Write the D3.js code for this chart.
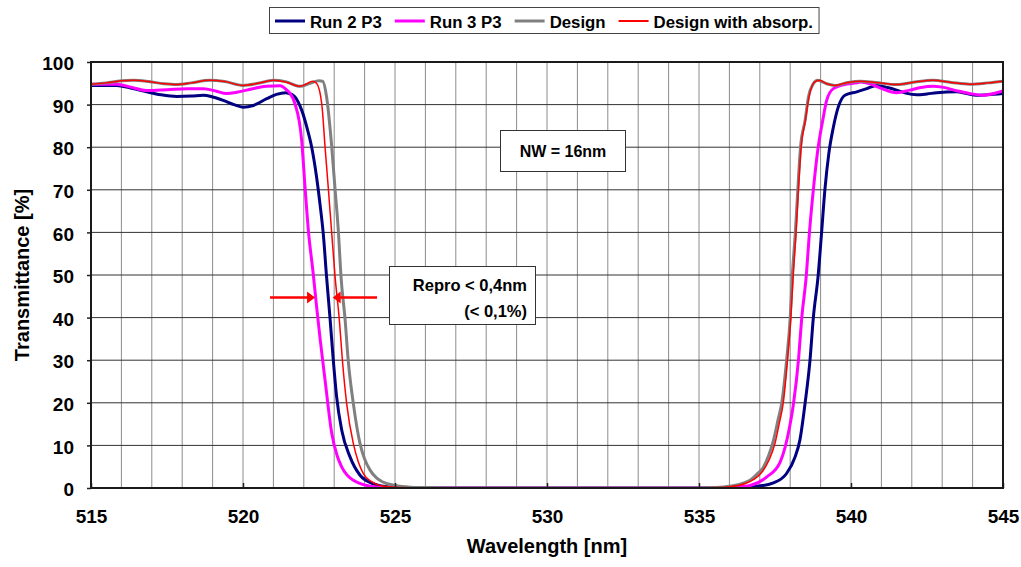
<!doctype html>
<html lang="en">
<head>
<meta charset="utf-8">
<title>Transmittance vs wavelength</title>
<style>
body { margin: 0; background: #fff; font-family: Arial, "Liberation Sans", Helvetica, sans-serif; }
text { font-weight: bold; fill: #000; }
</style>
</head>
<body>
<svg id="chart" width="1021" height="567"></svg>
<script src="https://cdn.jsdelivr.net/npm/d3@7/dist/d3.min.js"></script>
<script>
// values: [wavelength nm, transmittance %]
var run2 = [
  [515.0, 94.5], [515.85, 94.5], [516.3, 93.9], [516.83, 93.0], [517.3, 92.3], [517.82, 91.9],
  [518.3, 92.0], [518.7, 92.2], [519.0, 91.8], [519.35, 91.0], [519.7, 90.0], [520.0, 89.4],
  [520.34, 89.8], [520.78, 91.4], [521.1, 92.4], [521.4, 92.8], [521.6, 92.4], [521.71, 91.8],
  [521.93, 88.7], [522.1, 84.7], [522.26, 80], [522.42, 73], [522.53, 66.8], [522.64, 59.7],
  [522.75, 49.5], [522.86, 40.1], [522.97, 30], [523.08, 21.4], [523.25, 13.5], [523.52, 7.3],
  [523.85, 3.0], [524.29, 1.0], [524.84, 0.2], [525.5, 0.05], [526, 0], [535.5, 0],
  [536.0, 0.1], [536.9, 0.4], [537.45, 1.2], [537.88, 3.4], [538.16, 7.3], [538.32, 11.3],
  [538.49, 19.9], [538.65, 29.9], [538.76, 39.9], [538.92, 49.9], [539.03, 59.7], [539.14, 69.9],
  [539.27, 78.5], [539.42, 84.7], [539.58, 89.4], [539.8, 92.2], [540.19, 93.0], [540.5, 93.7],
  [540.85, 94.5], [541.2, 94.0], [541.5, 93.4], [541.8, 92.7], [542.16, 92.3], [542.5, 92.5],
  [542.82, 92.8], [543.47, 93.0], [543.8, 92.6], [544.13, 92.2], [544.5, 92.3], [545.0, 92.6]
];
var run3 = [
  [515.0, 94.8], [515.85, 94.8], [516.3, 94.1], [516.83, 93.3], [517.5, 93.5], [518.16, 93.75],
  [518.7, 93.75], [519.1, 93.2], [519.46, 92.6], [519.8, 92.9], [520.12, 93.4], [520.5, 94.0],
  [520.78, 94.3], [521.22, 94.4], [521.44, 93.4], [521.55, 92.6], [521.71, 90.2], [521.93, 81.6],
  [522.04, 70.7], [522.15, 60.5], [522.31, 50.3], [522.4, 44], [522.53, 35.4], [522.7, 25.3],
  [522.92, 12.8], [523.1, 7.5], [523.25, 4.9], [523.63, 1.8], [524.29, 0.3], [525, 0.05],
  [526, 0], [535.5, 0], [536.2, 0.2], [536.68, 0.6], [537.23, 2.6], [537.67, 6.1],
  [537.98, 14.3], [538.11, 19.9], [538.27, 29.9], [538.38, 39.9], [538.53, 49.9], [538.63, 59.7],
  [538.76, 69.9], [538.92, 80], [539.07, 86.3], [539.2, 91], [539.42, 93.75], [539.86, 94.8],
  [540.19, 95.1], [540.3, 95.3], [540.63, 94.9], [541.0, 93.8], [541.5, 92.8], [541.94, 93.4],
  [542.3, 94.0], [542.7, 94.3], [543.0, 94.1], [543.5, 93.2], [543.9, 92.6], [544.35, 92.2],
  [544.7, 92.6], [545.0, 93.2]
];
var design = [
  [515.0, 94.8], [515.5, 95.1], [516.0, 95.6], [516.4, 95.7], [516.9, 95.4], [517.4, 94.9],
  [517.8, 94.7], [518.3, 95.1], [518.9, 95.7], [519.4, 95.4], [520.0, 94.5], [520.5, 95.0],
  [521.0, 95.7], [521.4, 95.4], [521.875, 94.3], [522.2, 95.0], [522.5, 95.6], [522.62, 95.5],
  [522.75, 91.8], [522.92, 80], [523.03, 70], [523.14, 60], [523.22, 50], [523.36, 39.4],
  [523.46, 30], [523.63, 19.8], [523.85, 10.4], [524.0, 6.8], [524.18, 4.2], [524.4, 2.3],
  [524.6, 1.4], [525.0, 0.6], [525.5, 0.2], [526, 0.1], [527, 0], [535, 0],
  [535.5, 0.1], [536.0, 0.4], [536.4, 1.0], [536.68, 1.8], [536.9, 3.2], [537.12, 4.9],
  [537.3, 7.8], [537.45, 11.2], [537.6, 16], [537.72, 19.9], [537.88, 29.9], [538.0, 39.9],
  [538.07, 49.9], [538.17, 60], [538.25, 70], [538.34, 80], [538.49, 86.3], [538.6, 91.8],
  [538.75, 94.8], [538.9, 95.7], [539.2, 94.9], [539.47, 94.5], [539.9, 95.2], [540.3, 95.5],
  [540.8, 95.2], [541.5, 94.7], [542.1, 95.3], [542.7, 95.7], [543.3, 95.2], [543.9, 94.8],
  [544.5, 95.1], [545.0, 95.5]
];
var designAbs = [
  [515.0, 94.8], [515.5, 95.1], [516.0, 95.6], [516.4, 95.7], [516.9, 95.4], [517.4, 94.9],
  [517.8, 94.7], [518.3, 95.1], [518.9, 95.7], [519.4, 95.4], [520.0, 94.5], [520.5, 95.0],
  [521.0, 95.7], [521.4, 95.3], [521.875, 94.3], [522.1, 94.9], [522.28, 95.5], [522.42, 95.0],
  [522.59, 90.2], [522.7, 80], [522.81, 70], [522.92, 59.7], [523.03, 49.5], [523.17, 39.4],
  [523.27, 30], [523.41, 19.8], [523.63, 10.4], [523.8, 6.0], [523.96, 3.4], [524.2, 1.6],
  [524.5, 0.6], [525, 0.2], [526, 0.05], [527, 0], [535, 0], [535.5, 0.1],
  [536.0, 0.3], [536.5, 1.0], [536.8, 2.0], [537.1, 4.0], [537.3, 6.5], [537.5, 10.5],
  [537.65, 15.5], [537.77, 19.9], [537.91, 29.9], [538.02, 39.9], [538.1, 49.9], [538.19, 59.7],
  [538.27, 69.9], [538.36, 80], [538.5, 86.3], [538.62, 91.8], [538.8, 95.3], [538.96, 95.7],
  [539.2, 94.9], [539.47, 94.5], [539.9, 95.2], [540.3, 95.5], [540.8, 95.2], [541.5, 94.7],
  [542.1, 95.3], [542.7, 95.7], [543.3, 95.2], [543.9, 94.8], [544.5, 95.1], [545.0, 95.5]
];

var seriesNames = ["Run 2 P3", "Run 3 P3", "Design", "Design with absorp."];
var seriesColors = ["#000080", "#ff00ff", "#808080", "#ff0000"];
var seriesWidths = [3, 3, 3, 1.5];
var seriesData = [run2, run3, design, designAbs];

var xTicks = [515, 520, 525, 530, 535, 540, 545];
var yTicks = [0, 10, 20, 30, 40, 50, 60, 70, 80, 90, 100];

var margin = {top: 62, right: 18, bottom: 79, left: 91};
var width = 1021 - margin.left - margin.right,
    height = 567 - margin.top - margin.bottom;

var svg = d3.select("#chart");
var g = svg.append("g").attr("transform", "translate(" + margin.left + "," + margin.top + ")");

var x = d3.scaleLinear().domain([515, 545]).range([0, width]);
var y = d3.scaleLinear().domain([0, 100]).range([height, 0]);

// grid: every nm vertically, every 10 % horizontally
g.append("g").selectAll("line")
    .data(x.ticks(30))
  .enter().append("line")
    .attr("x1", d => x(d)).attr("x2", d => x(d))
    .attr("y1", 0).attr("y2", height)
    .attr("stroke", "#8c8c8c").attr("stroke-width", 1);

g.append("g").selectAll("line")
    .data(yTicks)
  .enter().append("line")
    .attr("x1", 0).attr("x2", width)
    .attr("y1", d => y(d)).attr("y2", d => y(d))
    .attr("stroke", "#333").attr("stroke-width", 1);

svg.append("defs").append("clipPath").attr("id", "clip")
  .append("rect").attr("width", width).attr("height", height + 2).attr("y", -1);

var line = d3.line()
    .x(d => x(d[0]))
    .y(d => y(d[1]))
    .curve(d3.curveMonotoneX);

g.append("g").attr("clip-path", "url(#clip)")
  .selectAll("path")
    .data(seriesData)
  .enter().append("path")
    .attr("d", line)
    .attr("fill", "none")
    .attr("stroke", (d, i) => seriesColors[i])
    .attr("stroke-width", (d, i) => seriesWidths[i])
    .attr("stroke-linejoin", "round");

// axes
var yAxis = g.append("g").call(d3.axisLeft(y).tickValues(yTicks).tickSize(4).tickPadding(13));
var xAxis = g.append("g").attr("transform", "translate(0," + height + ")")
    .call(d3.axisBottom(x).tickValues(xTicks).tickSize(-5).tickPadding(22));
[xAxis, yAxis].forEach(function(a) {
  a.select(".domain").remove();
  a.selectAll("line").attr("stroke", "#222").attr("stroke-width", 1.5);
  a.selectAll("text").attr("font-size", "19px").attr("font-family", "Arial, 'Liberation Sans', sans-serif")
    .attr("font-weight", "bold").attr("fill", "#000");
});
yAxis.selectAll("text").attr("dy", "0.4em");
xAxis.selectAll("text").attr("dy", "0.71em");

g.append("rect").attr("width", width).attr("height", height)
    .attr("fill", "none").attr("stroke", "#1a1a1a").attr("stroke-width", 2);

// axis titles
svg.append("text").attr("x", margin.left + width / 2).attr("y", 553)
    .attr("text-anchor", "middle").attr("font-size", "20px").text("Wavelength [nm]");
svg.append("text").attr("transform", "translate(29," + (margin.top + height / 2) + ") rotate(-90)")
    .attr("text-anchor", "middle").attr("font-size", "20px").text("Transmittance [%]");

// legend
var legend = svg.append("g");
var lx = 275;
seriesNames.forEach(function(name, i) {
  legend.append("line").attr("x1", lx).attr("x2", lx + 30).attr("y1", 21).attr("y2", 21)
      .attr("stroke", seriesColors[i]).attr("stroke-width", seriesWidths[i] === 3 ? 3 : 2);
  var t = legend.append("text").attr("x", lx + 35).attr("y", 27.5).attr("font-size", "16.8px").text(name);
  lx = lx + 35 + t.node().getComputedTextLength() + 13;
});
legend.insert("rect", ":first-child").attr("x", 269.5).attr("y", 7.5)
    .attr("width", lx - 13 + 6 - 269.5).attr("height", 26)
    .attr("fill", "#fff").attr("stroke", "#444").attr("stroke-width", 1);

// annotation: NW box
var nw = svg.append("g");
nw.append("rect").attr("x", 500.5).attr("y", 130.5).attr("width", 125).attr("height", 41)
    .attr("fill", "#fff").attr("stroke", "#333").attr("stroke-width", 1);
nw.append("text").attr("x", 563).attr("y", 157).attr("text-anchor", "middle")
    .attr("font-size", "16px").text("NW = 16nm");

// annotation: repro box
var rp = svg.append("g");
rp.append("rect").attr("x", 389.5).attr("y", 266.5).attr("width", 146).attr("height", 58)
    .attr("fill", "#fff").attr("stroke", "#333").attr("stroke-width", 1);
rp.append("text").attr("x", 527).attr("y", 291).attr("text-anchor", "end")
    .attr("font-size", "16.5px").text("Repro < 0,4nm");
rp.append("text").attr("x", 527).attr("y", 317).attr("text-anchor", "end")
    .attr("font-size", "16.5px").text("(< 0,1%)");

// red arrows marking the edge spread
var ay = y(44.7) + margin.top;
var leftTip = x(522.37) + margin.left, rightTip = x(522.95) + margin.left;
var arrows = svg.append("g").attr("fill", "#ff0000").attr("stroke", "#ff0000");
arrows.append("line").attr("x1", 270).attr("x2", leftTip - 6).attr("y1", ay).attr("y2", ay).attr("stroke-width", 2.5);
arrows.append("path").attr("stroke", "none")
    .attr("d", "M" + leftTip + "," + ay + "L" + (leftTip - 8) + "," + (ay - 6) + "L" + (leftTip - 8) + "," + (ay + 6) + "Z");
arrows.append("line").attr("x1", 377).attr("x2", rightTip + 6).attr("y1", ay).attr("y2", ay).attr("stroke-width", 2.5);
arrows.append("path").attr("stroke", "none")
    .attr("d", "M" + rightTip + "," + ay + "L" + (rightTip + 8) + "," + (ay - 6) + "L" + (rightTip + 8) + "," + (ay + 6) + "Z");
</script>
</body>
</html>
